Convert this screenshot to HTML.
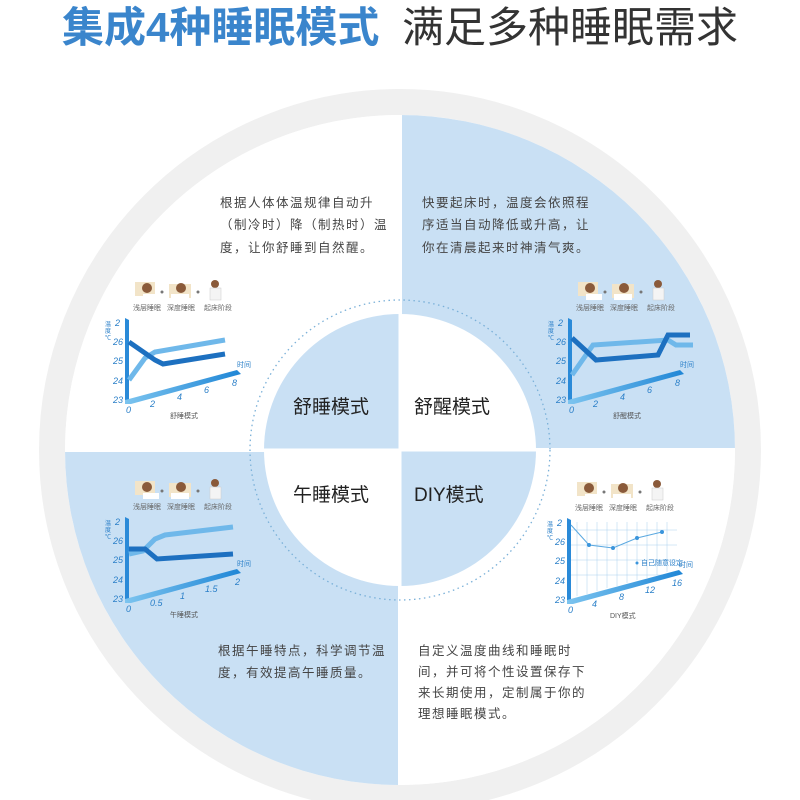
<!DOCTYPE html>
<html><head><meta charset="utf-8"><style>
html,body{margin:0;padding:0;background:#fff;}
svg{display:block;font-family:"Liberation Sans","Noto Sans CJK SC",sans-serif;}
.d{font-size:12.5px;fill:#444;letter-spacing:1.5px;}
.m{font-size:19px;fill:#222;}
.ax{font-size:9px;fill:#2a7fc8;font-style:italic;}
.sm{font-size:7px;fill:#666;}
.cap{font-size:7px;fill:#555;}
</style></head><body>
<svg width="800" height="800" viewBox="0 0 800 800">
<defs>
<linearGradient id="ax" x1="0" y1="0" x2="1" y2="0"><stop offset="0" stop-color="#7cc4ef"/><stop offset="1" stop-color="#1f86d6"/></linearGradient>
<g id="icons">
  <rect x="10" y="-118" width="20" height="14" fill="#f2e4c8"/><circle cx="22" cy="-112" r="5" fill="#8a5a3a"/>
  <rect x="18" y="-106" width="16" height="6" fill="#fff"/>
  <circle cx="37" cy="-108" r="1.5" fill="#777"/>
  <rect x="44" y="-116" width="22" height="14" fill="#f2e4c8"/><circle cx="56" cy="-112" r="5" fill="#8a5a3a"/>
  <rect x="46" y="-106" width="18" height="6" fill="#fff"/>
  <circle cx="73" cy="-108" r="1.5" fill="#777"/>
  <circle cx="90" cy="-116" r="4" fill="#8a5a3a"/><rect x="85" y="-112" width="11" height="12" fill="#f4f4f4" stroke="#ccc" stroke-width=".5"/>
  <text x="8" y="-90" class="sm">浅层睡眠</text><text x="42" y="-90" class="sm">深度睡眠</text><text x="79" y="-90" class="sm">起床阶段</text>
</g>
<g id="axes">
  <polygon points="0,-82 4,-80 4,0 0,2" fill="#2a8ad8"/>
  <polygon points="0,0 112,-30 116,-26 6,4 0,4" fill="url(#ax)"/>
  <text x="-12" y="3" class="ax">23</text><text x="-12" y="-16" class="ax">24</text><text x="-12" y="-36" class="ax">25</text><text x="-12" y="-55" class="ax">26</text><text x="-10" y="-74" class="ax">2</text>
  <text x="-20" y="-74" style="font-size:6px;fill:#2a7fc8">温</text><text x="-20" y="-67" style="font-size:6px;fill:#2a7fc8">度</text><text x="-20" y="-60" style="font-size:6px;fill:#2a7fc8">℃</text>
  <text x="112" y="-33" style="font-size:7px;fill:#2a7fc8">时间</text>
</g>
</defs>

<text x="62" y="42" style="font-size:42px;font-weight:bold;fill:#3a85cc;">集成4种睡眠模式</text>
<text x="402" y="42" style="font-size:42px;fill:#333;">满足多种睡眠需求</text>

<circle cx="400" cy="450" r="348" fill="none" stroke="#f0f0f0" stroke-width="26"/>
<path d="M400,450 L400,115 A335,335 0 0 1 735,450 Z" fill="#c9e0f4"/>
<path d="M400,450 L65,450 A335,335 0 0 0 400,785 Z" fill="#c9e0f4"/>
<path d="M400,450 L400,115 A335,335 0 0 0 65,450 Z" fill="#fff"/>
<path d="M400,450 L735,450 A335,335 0 0 1 400,785 Z" fill="#fff"/>
<line x1="400" y1="115" x2="400" y2="785" stroke="#fff" stroke-width="4"/>
<line x1="65" y1="450" x2="735" y2="450" stroke="#fff" stroke-width="4"/>
<circle cx="400" cy="450" r="150" fill="none" stroke="#7ab0d8" stroke-width="1.3" stroke-dasharray="1.5 3.5"/>
<path d="M400,450 L400,314 A136,136 0 0 0 264,450 Z" fill="#c9e0f4"/>
<path d="M400,450 L400,314 A136,136 0 0 1 536,450 Z" fill="#fff"/>
<path d="M400,450 L264,450 A136,136 0 0 0 400,586 Z" fill="#fff"/>
<path d="M400,450 L536,450 A136,136 0 0 1 400,586 Z" fill="#c9e0f4"/>
<line x1="400" y1="314" x2="400" y2="586" stroke="#fff" stroke-width="3"/>
<line x1="264" y1="450" x2="536" y2="450" stroke="#fff" stroke-width="3"/>
<text x="293" y="413" class="m">舒睡模式</text>
<text x="414" y="413" class="m">舒醒模式</text>
<text x="293" y="501" class="m">午睡模式</text>
<text x="414" y="501" class="m">DIY模式</text>

<text class="d"><tspan x="220" y="207">根据人体体温规律自动升</tspan><tspan x="220" y="229">（制冷时）降（制热时）温</tspan><tspan x="220" y="252">度，让你舒睡到自然醒。</tspan></text>
<text class="d"><tspan x="422" y="207">快要起床时，温度会依照程</tspan><tspan x="422" y="229">序适当自动降低或升高，让</tspan><tspan x="422" y="252">你在清晨起来时神清气爽。</tspan></text>
<text class="d"><tspan x="218" y="655">根据午睡特点，科学调节温</tspan><tspan x="218" y="677">度，有效提高午睡质量。</tspan></text>
<text class="d"><tspan x="418" y="655">自定义温度曲线和睡眠时</tspan><tspan x="418" y="676">间，并可将个性设置保存下</tspan><tspan x="418" y="697">来长期使用，定制属于你的</tspan><tspan x="418" y="718">理想睡眠模式。</tspan></text>

<g transform="translate(125,400)">
  <use href="#icons"/><use href="#axes"/>
  <text x="1" y="13" class="ax">0</text><text x="25" y="7" class="ax">2</text><text x="52" y="0" class="ax">4</text><text x="79" y="-7" class="ax">6</text><text x="107" y="-14" class="ax">8</text>
  <polyline points="4,-20 20,-42 30,-48 100,-60" fill="none" stroke="#6fb8ea" stroke-width="5"/>
  <polyline points="4,-58 30,-40 38,-36 100,-46" fill="none" stroke="#1d70c0" stroke-width="5"/>
  <text x="45" y="18" class="cap">舒睡模式</text>
</g>
<g transform="translate(568,400)">
  <use href="#icons"/><use href="#axes"/>
  <text x="1" y="13" class="ax">0</text><text x="25" y="7" class="ax">2</text><text x="52" y="0" class="ax">4</text><text x="79" y="-7" class="ax">6</text><text x="107" y="-14" class="ax">8</text>
  <polyline points="4,-25 25,-55 100,-60 108,-55 125,-55" fill="none" stroke="#6fb8ea" stroke-width="5"/>
  <polyline points="4,-62 28,-40 90,-45 100,-65 122,-65" fill="none" stroke="#1d70c0" stroke-width="5"/>
  <text x="45" y="18" class="cap">舒醒模式</text>
</g>
<g transform="translate(125,599)">
  <use href="#icons"/><use href="#axes"/>
  <text x="1" y="13" class="ax">0</text><text x="25" y="7" class="ax">0.5</text><text x="55" y="0" class="ax">1</text><text x="80" y="-7" class="ax">1.5</text><text x="110" y="-14" class="ax">2</text>
  <polyline points="4,-45 18,-48 30,-60 40,-64 108,-72" fill="none" stroke="#6fb8ea" stroke-width="5"/>
  <polyline points="4,-50 20,-50 32,-40 108,-45" fill="none" stroke="#1d70c0" stroke-width="5"/>
  <text x="45" y="18" class="cap">午睡模式</text>
</g>
<g transform="translate(567,600)">
  <use href="#icons"/>
  <g stroke="#a9d0ee" stroke-width=".5">
    <line x1="10" y1="-78" x2="10" y2="-4"/><line x1="20" y1="-78" x2="20" y2="-6"/><line x1="30" y1="-78" x2="30" y2="-9"/><line x1="40" y1="-78" x2="40" y2="-12"/><line x1="50" y1="-78" x2="50" y2="-14"/><line x1="60" y1="-78" x2="60" y2="-17"/><line x1="70" y1="-78" x2="70" y2="-20"/><line x1="80" y1="-78" x2="80" y2="-22"/><line x1="90" y1="-78" x2="90" y2="-25"/><line x1="100" y1="-78" x2="100" y2="-28"/>
    <line x1="4" y1="-70" x2="110" y2="-70"/><line x1="4" y1="-55" x2="110" y2="-55"/><line x1="4" y1="-40" x2="110" y2="-40"/><line x1="4" y1="-25" x2="100" y2="-25"/>
  </g>
  <use href="#axes"/>
  <text x="1" y="13" class="ax">0</text><text x="25" y="7" class="ax">4</text><text x="52" y="0" class="ax">8</text><text x="78" y="-7" class="ax">12</text><text x="105" y="-14" class="ax">16</text>
  <polyline points="4,-75 22,-55 46,-52 70,-62 95,-68" fill="none" stroke="#5aa8e0" stroke-width="1"/>
  <g fill="#3a95dc"><circle cx="22" cy="-55" r="2"/><circle cx="46" cy="-52" r="2"/><circle cx="70" cy="-62" r="2"/><circle cx="95" cy="-68" r="2"/><circle cx="70" cy="-37" r="1.5"/></g>
  <text x="74" y="-35" style="font-size:7px;fill:#2a7fc8">自己随意设定</text>
  <text x="43" y="18" class="cap">DIY模式</text>
</g>
</svg>
</body></html>
